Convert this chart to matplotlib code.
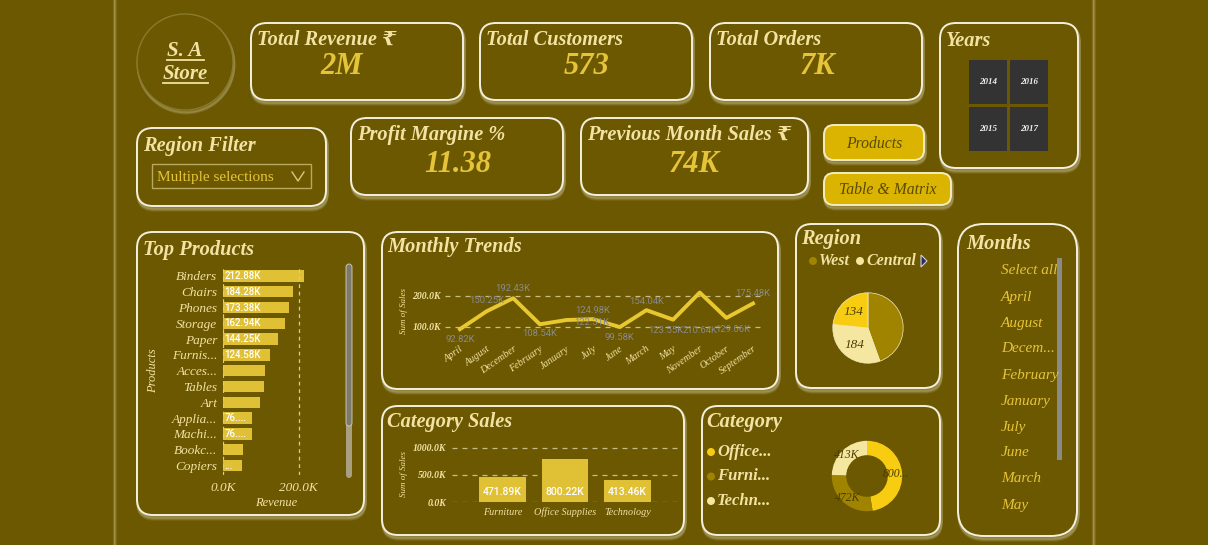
"""Superstore sales dashboard mock-up, olive/gold theme."""
import numpy as np
import matplotlib; matplotlib.use("Agg")
import matplotlib.pyplot as plt
from matplotlib.patches import FancyBboxPatch, Circle, Rectangle, Polygon

W, H = 1208, 545
BG = "#6b5800"
CREAM = "#f2e2a4"
GOLD = "#e6c43a"
BAR = "#e0c035"
SERIF = ["Liberation Serif", "DejaVu Serif", "DejaVu Sans"]
SANS = ["Roboto", "DejaVu Sans"]
TS = 14.7  # card title size

# KPI cards
kpi_titles = ["Total Revenue ₹", "Total Customers", "Total Orders"]
kpi_values = ["2M", "573", "7K"]
profit_margin = "11.38"
prev_month_sales = "74K"
years = ["2014", "2016", "2015", "2017"]

# top products
products = ["Binders", "Chairs", "Phones", "Storage", "Paper", "Furnis...", "Acces...",
            "Tables", "Art", "Applia...", "Machi...", "Bookc...", "Copiers"]
product_rev = [212.88, 184.28, 173.38, 162.94, 144.25, 124.58, 111.6,
               108.8, 96.5, 76.6, 75.7, 53.9, 51.1]
product_lbl = ["212.88K", "184.28K", "173.38K", "162.94K", "144.25K", "124.58K", "",
               "", "", "76....", "76....", "", "..."]

# monthly trends
months = ["April", "August", "December", "February", "January", "July", "June",
          "March", "May", "November", "October", "September"]
month_sales = [92.82, 150.25, 192.43, 108.54, 122.31, 124.98, 99.58,
               154.04, 123.55, 210.64, 129.06, 175.48]
# label offsets in pixels (dx, dy)
month_lbl_off = [(0, -10), (0, 11), (0, 10), (0, -9), (25, -2), (0, 9), (0, -10),
                 (0, 9), (-7, -11), (0, -38), (6, -12), (0, 10)]

# region pie
regions = ["West", "Central", "East"]
region_cust = [255, 184, 134]
region_colors = ["#a08400", "#f5e6a0", "#f8cc10"]

# category
categories = ["Furniture", "Office Supplies", "Technology"]
cat_sales = [471.89, 800.22, 413.46]
donut_cats = ["Office...", "Furni...", "Techn..."]
donut_vals = [800.22, 471.89, 413.46]
donut_lbls = ["800...", "472K", "413K"]
donut_colors = ["#f8cc10", "#a08400", "#f5e6a0"]

slicer_months = ["Select all", "April", "August", "Decem...", "February", "January",
                 "July", "June", "March", "May"]

fig = plt.figure(figsize=(W / 100, H / 100), dpi=100)
fig.patch.set_facecolor(BG)
bg = fig.add_axes([0, 0, 1, 1])
bg.set_xlim(0, W); bg.set_ylim(H, 0); bg.axis("off")

# page edges
for x in (114, 1093):
    for dx, a in ((0, 0.4), (1, 0.22), (2, 0.1), (-1, 0.1)):
        bg.plot([x + dx, x + dx], [0, H], color="#e8dcb0", alpha=a, lw=1)


def card(x, y, w, h, r=16, fill=BG, ec="#f4f0e0", lw=1.4):
    for off, a in ((4, 0.10), (3, 0.15), (2, 0.2)):
        bg.add_patch(FancyBboxPatch((x + 1, y + off), w, h, boxstyle=f"round,pad=0,rounding_size={r}",
                                    fc="none", ec="#f0ead0", lw=2.5, alpha=a))
    bg.add_patch(FancyBboxPatch((x, y), w, h, boxstyle=f"round,pad=0,rounding_size={r}",
                                fc=fill, ec=ec, lw=lw))


def title(x, y, s, size=TS, color=CREAM):
    bg.text(x, y, s, fontsize=size, color=color, family=SERIF, style="italic",
            weight="bold", va="center", ha="left")


def big(x, y, s):
    bg.text(x, y, s, fontsize=22, color=GOLD, family=SERIF, style="italic",
            weight="bold", ha="center", va="center")


def sub_ax(x, y, w, h):
    return fig.add_axes([x / W, 1 - (y + h) / H, w / W, h / H])


# logo
for off, a in ((3, 0.15), (2, 0.2)):
    bg.add_patch(Circle((186, 62 + off), 48, fc="none", ec="#f0ead0", lw=2, alpha=a))
bg.add_patch(Circle((185, 62), 48, fc=BG, ec="#8a7a30", lw=1))
for yy, s, x0, x1 in ((51, "S. A", 167, 204), (74, "Store", 163, 208)):
    bg.text(185, yy, s, fontsize=15, color=CREAM, family=SERIF, style="italic",
            weight="bold", ha="center", va="center")
    bg.plot([x0, x1], [yy + 9, yy + 9], color=CREAM, lw=1.3)

# KPI cards row 1
for (x0, x1), t, v, vx in zip([(251, 463), (480, 692), (710, 922)], kpi_titles, kpi_values,
                              (342, 587, 818)):
    card(x0, 23, x1 - x0, 77)
    title(x0 + 6, 40, t)
    big(vx, 67, v)

# years slicer
card(940, 23, 138, 145)
title(946, 41, "Years")
for i, yr in enumerate(years):
    cx = 969 + (i % 2) * 41
    cy = 60 + (i // 2) * 47
    bg.add_patch(Rectangle((cx, cy), 38, 44, fc="#333333", ec="none"))
    bg.text(cx + 19, cy + 22, yr, fontsize=6.5, color="#f0f0f0", family=SERIF,
            style="italic", weight="bold", ha="center", va="center")

# region filter
card(137, 128, 189, 78)
title(143, 146, "Region Filter")
bg.add_patch(Rectangle((152, 164), 159, 24, fc="none", ec="#b8a860", lw=1))
bg.text(157, 177, "Multiple selections", fontsize=11, color=GOLD, family=SERIF,
        ha="left", va="center")
bg.plot([292, 298, 304], [172, 181, 172], color="#d8c880", lw=1)

# profit margin / previous month
card(351, 118, 212, 77)
title(357, 135, "Profit Margine %")
big(458, 165, profit_margin)
card(581, 118, 227, 77)
title(587, 135, "Previous Month Sales ₹")
big(694, 165, prev_month_sales)

# buttons
for (x0, y0, w, h), s in zip([(824, 125, 100, 35), (824, 173, 127, 32)], ["Products", "Table & Matrix"]):
    card(x0, y0, w, h, r=10, fill="#dab400", ec="#f4ecc0")
    bg.text(x0 + w / 2, y0 + h / 2 + 1, s, fontsize=11.3, color="#5a4a00", family=SERIF,
            style="italic", ha="center", va="center")

# ---- Top Products
card(137, 232, 227, 283)
title(143, 250, "Top Products")
ax = sub_ax(223, 266.5, 87, 208.5)
yy = np.arange(len(products))
ax.barh(yy, product_rev, height=0.72, color=BAR)
ax.set_ylim(len(products) - 0.4, -0.6)
ax.set_xlim(0, 230)
ax.set_facecolor("none")
for s in ax.spines.values():
    s.set_visible(False)
for gx in (0, 200):
    ax.axvline(gx, color="#d8cc90", ls=(0, (3, 3)), lw=0.9)
for i, lbl in enumerate(product_lbl):
    if lbl:
        ax.text(3, i, lbl, fontsize=7, color="white", family=SANS, weight="medium",
                va="center", ha="left")
ax.set_yticks(yy)
ax.set_yticklabels(products, fontsize=9.5, color=CREAM, family=SERIF, style="italic")
ax.set_xticks([0, 200])
ax.set_xticklabels(["0.0K", "200.0K"], fontsize=9.5, color=CREAM, family=SERIF, style="italic")
ax.tick_params(length=0, pad=4)
ax.tick_params(axis="x", pad=5)
bg.text(276, 503, "Revenue", fontsize=9, color=CREAM, family=SERIF, style="italic",
        ha="center", va="center")
bg.text(153, 371, "Products", fontsize=9, color=CREAM, family=SERIF, style="italic",
        ha="center", va="center", rotation=90)
bg.add_patch(FancyBboxPatch((346, 264), 6, 214, boxstyle="round,pad=0,rounding_size=3",
                            fc="#a8a080", ec="none"))
bg.add_patch(FancyBboxPatch((346, 264), 6, 162, boxstyle="round,pad=0,rounding_size=3",
                            fc="#7c7a6c", ec="#d0d0c0", lw=0.6))

# ---- Monthly Trends
card(382, 232, 396, 157)
title(387, 247, "Monthly Trends")
ax = sub_ax(445, 280, 320, 60)
xx = np.arange(len(months))
ax.plot(xx, month_sales, color="#e8c830", lw=2.8, solid_joinstyle="round")
ax.set_xlim(-0.56, 11.45)
ax.set_ylim(58, 251)
ax.set_facecolor("none")
for s in ax.spines.values():
    s.set_visible(False)
for gy in (100, 200):
    ax.axhline(gy, color="#c8bc88", ls=(0, (4, 4)), lw=0.9, zorder=0)
for i, (v, (dx, dy)) in enumerate(zip(month_sales, month_lbl_off)):
    ax.annotate(f"{v:.2f}K", (i, v), xytext=(dx, dy), textcoords="offset pixels",
                fontsize=6.8, color="#8a8a8c", family=SANS, ha="center", va="center")
ax.set_yticks([100, 200])
ax.set_yticklabels(["100.0K", "200.0K"], fontsize=7, color=CREAM, family=SERIF,
                   style="italic", weight="bold")
ax.set_xticks(xx)
ax.set_xticklabels(months, fontsize=7.3, color=CREAM, family=SERIF, style="italic",
                   rotation=35, ha="right", rotation_mode="anchor")
ax.tick_params(length=0, pad=3)
bg.text(404, 311, "Sum of Sales", fontsize=6.5, color=CREAM, family=SERIF,
        style="italic", ha="center", va="center", rotation=90)

# ---- Region pie
card(796, 224, 144, 164)
title(801, 239, "Region")
for cx, name, col in ((813, regions[0], region_colors[0]), (860, regions[1], region_colors[1])):
    bg.add_patch(Circle((cx, 261), 4, fc=col, ec="none"))
    bg.text(cx + 6, 261, name, fontsize=11.5, color=CREAM, family=SERIF, style="italic",
            weight="bold", va="center", ha="left")
bg.add_patch(Polygon([[921, 255], [921, 267], [927, 261]], closed=True, fc="#2c2c5a", ec="#d0d0e0", lw=0.8))
ax = sub_ax(828, 288, 80, 80)
wedges, _ = ax.pie(region_cust, colors=region_colors, startangle=90, counterclock=False,
                   radius=0.88, wedgeprops=dict(ec="#f5ecc0", lw=0.5))
for wdg, v, show in zip(wedges, region_cust, (False, True, True)):
    if show:
        ang = np.deg2rad((wdg.theta1 + wdg.theta2) / 2)
        ax.text(0.55 * np.cos(ang), 0.55 * np.sin(ang), str(v), fontsize=9.5, color="#4a3c00",
                family=SERIF, style="italic", ha="center", va="center")
ax.set_xlim(-1, 1); ax.set_ylim(-1, 1)

# ---- Months slicer
card(958, 224, 119, 312, r=26)
title(966, 244, "Months")
for i, m in enumerate(slicer_months):
    bg.text(1001, 271 + 26 * i, m, fontsize=11, color=GOLD, family=SERIF,
            style="italic", ha="left", va="center")
bg.add_patch(Rectangle((1057, 258), 5, 202, fc="#8a8a88", ec="none"))

# ---- Category Sales
card(382, 406, 302, 129)
title(387, 422, "Category Sales")
ax = sub_ax(452, 440, 228, 62)
xc = np.arange(len(categories))
ax.bar(xc, cat_sales, width=0.75, color=BAR)
ax.set_xlim(-0.81, 2.84)
ax.set_ylim(0, 1148)
ax.set_facecolor("none")
for s in ax.spines.values():
    s.set_visible(False)
for gy in (0, 500, 1000):
    ax.axhline(gy, color="#c8bc88", ls=(0, (4, 4)), lw=0.9, zorder=0)
for i, v in enumerate(cat_sales):
    ax.text(i, 190, f"{v:.2f}K", fontsize=7.5, color="white", family=SANS, weight="medium",
            ha="center", va="center")
ax.set_yticks([0, 500, 1000])
ax.set_yticklabels(["0.0K", "500.0K", "1000.0K"], fontsize=7, color=CREAM, family=SERIF,
                   style="italic", weight="bold")
ax.set_xticks(xc)
ax.set_xticklabels(categories, fontsize=7.3, color=CREAM, family=SERIF, style="italic")
ax.tick_params(length=0, pad=4)
bg.text(404, 474, "Sum of Sales", fontsize=6.5, color=CREAM, family=SERIF,
        style="italic", ha="center", va="center", rotation=90)

# ---- Category donut
card(702, 406, 238, 129)
title(706, 422, "Category")
for i, (name, col) in enumerate(zip(donut_cats, donut_colors)):
    bg.add_patch(Circle((711, 452 + 24.5 * i), 4, fc=col, ec="none"))
    bg.text(717, 452 + 24.5 * i, name, fontsize=12, color=CREAM, family=SERIF,
            style="italic", weight="bold", va="center", ha="left")
ax = sub_ax(827, 436, 80, 80)
wedges, _ = ax.pie(donut_vals, colors=donut_colors, startangle=90, counterclock=False,
                   radius=0.88, wedgeprops=dict(width=0.36, ec="none"))
for wdg, lbl in zip(wedges, donut_lbls):
    ang = np.deg2rad((wdg.theta1 + wdg.theta2) / 2)
    ax.text(0.72 * np.cos(ang), 0.72 * np.sin(ang), lbl, fontsize=8.5, color="#4a3c00",
            family=SERIF, style="italic", ha="center", va="center")
ax.set_xlim(-1, 1); ax.set_ylim(-1, 1)

fig.savefig("out.png", dpi=100, facecolor=BG)
